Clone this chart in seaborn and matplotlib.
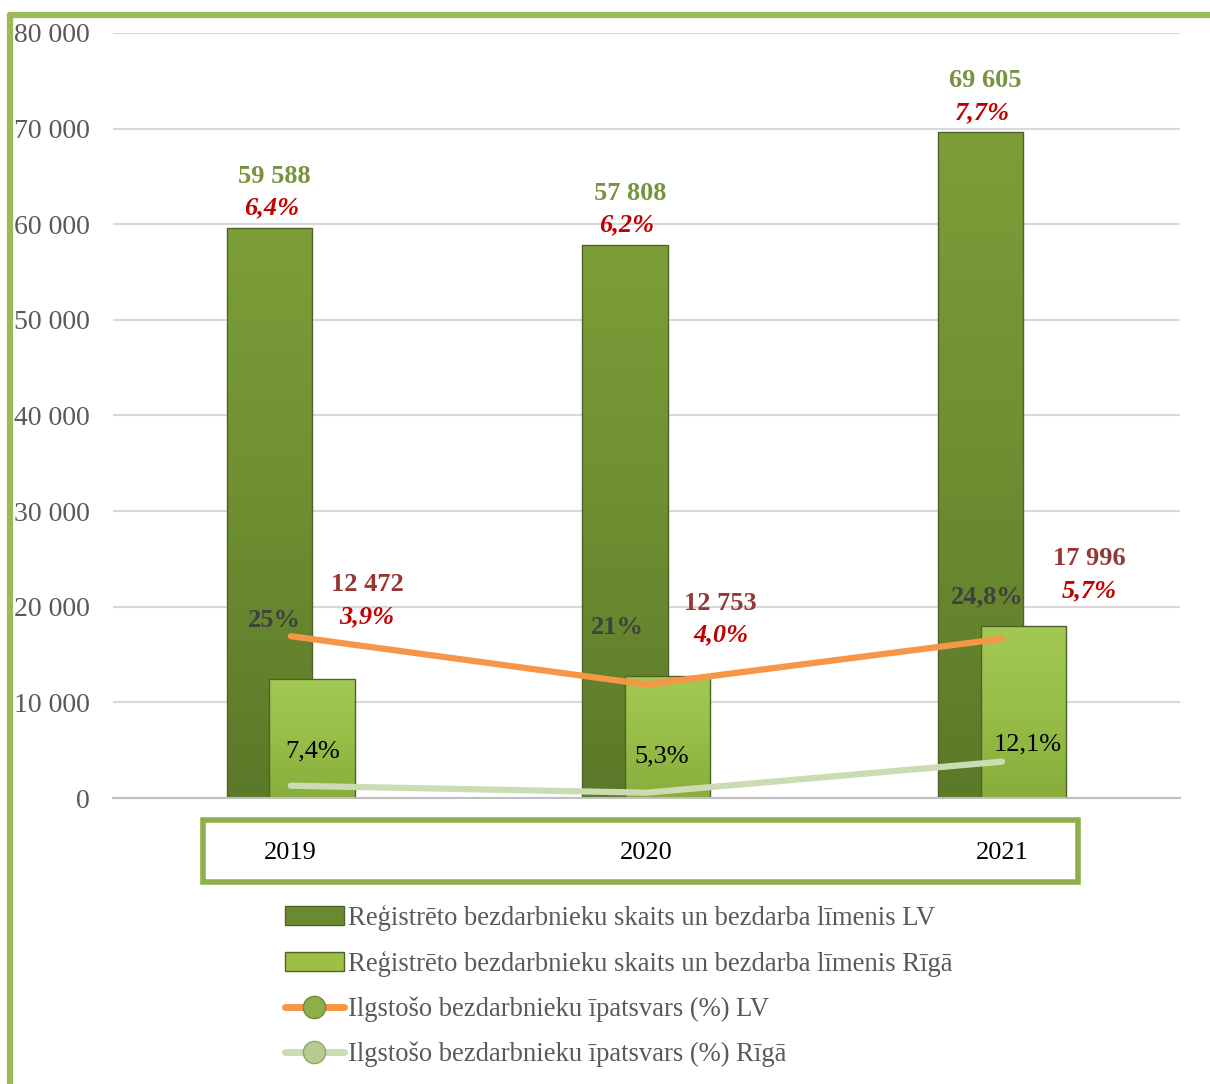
import numpy as np
import pandas as pd
import matplotlib
matplotlib.use("Agg")
import matplotlib.pyplot as plt
import seaborn as sns
from matplotlib.patches import Patch, Rectangle
from matplotlib.lines import Line2D
from matplotlib.ticker import FuncFormatter
from matplotlib.colors import LinearSegmentedColormap

# data
years = ["2019", "2020", "2021"]
count_lv = [59588, 57808, 69605]
count_riga = [12472, 12753, 17996]
rate_lv = [6.4, 6.2, 7.7]
rate_riga = [3.9, 4.0, 5.7]
longterm_lv = [25, 21, 24.8]
longterm_riga = [7.4, 5.3, 12.1]

legend_labels = [
    "Reģistrēto bezdarbnieku skaits un bezdarba līmenis LV",
    "Reģistrēto bezdarbnieku skaits un bezdarba līmenis Rīgā",
    "Ilgstošo bezdarbnieku īpatsvars (%) LV",
    "Ilgstošo bezdarbnieku īpatsvars (%) Rīgā",
]

# label nudges in pixels (labels were hand placed in the original)
riga_nudge = [(55, 94), (53, 73), (66, 67)]
lvline_nudge = [(-16, 16), (-29, 57), (-15, 42)]
rigaline_nudge = [(22, 34), (15, 36), (26, 17)]

sns.set_theme(style="white")
plt.rcParams["font.family"] = ["Liberation Serif", "DejaVu Serif"]

GREEN_DARK = "#6E8C31"
GREEN_LIGHT = "#9DC044"
EDGE = "#4F6228"
ORANGE = "#F79646"
PALE = "#CBDBB3"
FRAME = "#9BBB59"
FS = 19


def thousands(v):
    return f"{int(v):,}".replace(",", " ")


def pct(v, fmt):
    return (format(v, fmt) + "%").replace(".", ",")


def shade(ax, patch, colors, z):
    # vertical gradient clipped to a bar, outline kept on top
    x0, y0 = patch.get_x(), patch.get_y()
    w, h = patch.get_width(), patch.get_height()
    cmap = LinearSegmentedColormap.from_list("bar", colors)
    grad = np.linspace(0, 1, 128).reshape(-1, 1)
    im = ax.imshow(grad, cmap=cmap, extent=(x0, x0 + w, y0, y0 + h),
                   origin="lower", aspect="auto", zorder=z)
    im.set_clip_path(patch)
    patch.set_facecolor("none")
    patch.set_zorder(z + 0.005)


df = pd.DataFrame({
    "year": years * 2,
    "count": count_lv + count_riga,
    "area": ["LV"] * len(years) + ["Rīga"] * len(years),
})

fig = plt.figure(figsize=(12.1, 10.84), dpi=100)
ax = fig.add_axes([0.0934, 0.2638, 0.8816, 0.7058])

# overlapping bars: negative gap widens the dodged bars
sns.barplot(data=df, x="year", y="count", hue="area",
            palette=[GREEN_DARK, GREEN_LIGHT], saturation=1, width=0.24, gap=-1,
            errorbar=None, legend=False, edgecolor=EDGE, linewidth=1.0, ax=ax)

bars = list(ax.patches)
n = len(years)
for i in range(n):
    shade(ax, bars[i], ["#5C7829", "#6E8E31", "#7C9E39"], 2.1 + 0.01 * i)
    shade(ax, bars[n + i], ["#88AD3C", "#97BE47", "#A3C955"], 2.3 + 0.01 * i)

ax.set_xlim(-0.5, n - 0.5)
ax.set_ylim(0, 80000)
ax.set_yticks(np.arange(0, 80001, 10000))
ax.yaxis.set_major_formatter(FuncFormatter(lambda v, p: thousands(v)))
ax.yaxis.grid(True, color="#D9D9D9", lw=1.5)
ax.set_axisbelow(True)
for s in ["top", "right", "left"]:
    ax.spines[s].set_visible(False)
ax.spines["bottom"].set_color("#BFBFBF")
ax.spines["bottom"].set_linewidth(1.5)
ax.tick_params(axis="y", length=0, pad=16.5, labelsize=20, labelcolor="#595959")
ax.tick_params(axis="x", length=0, pad=32, labelsize=FS, labelcolor="black")
ax.set_xlabel("")
ax.set_ylabel("")

for i in range(n):
    b = bars[i]
    cx = b.get_x() + b.get_width() / 2
    ax.annotate(thousands(count_lv[i]), (cx, count_lv[i]), xytext=(5, 52),
                textcoords="offset pixels", ha="center", va="center",
                color="#77933C", fontweight="bold", fontsize=FS, zorder=5)
    ax.annotate(pct(rate_lv[i], ".1f"), (cx, count_lv[i]), xytext=(2, 20),
                textcoords="offset pixels", ha="center", va="center",
                color="#C00000", fontweight="bold", fontstyle="italic",
                fontsize=FS, zorder=5)
    b = bars[n + i]
    cx = b.get_x() + b.get_width() / 2
    dx, dy = riga_nudge[i]
    ax.annotate(thousands(count_riga[i]), (cx, count_riga[i]), xytext=(dx, dy),
                textcoords="offset pixels", ha="center", va="center",
                color="#953735", fontweight="bold", fontsize=FS, zorder=5)
    ax.annotate(pct(rate_riga[i], ".1f"), (cx, count_riga[i]), xytext=(dx, dy - 32),
                textcoords="offset pixels", ha="center", va="center",
                color="#C00000", fontweight="bold", fontstyle="italic",
                fontsize=FS, zorder=5)

# long-term share lines on a hidden secondary axis; the original is not drawn
# to a linear scale, a squared scale follows it more closely
ax2 = ax.twinx()
pos = np.arange(n)
sns.lineplot(x=pos, y=longterm_lv, ax=ax2, color=ORANGE, lw=4.5,
             solid_capstyle="round")
sns.lineplot(x=pos, y=longterm_riga, ax=ax2, color=PALE, lw=4.5,
             solid_capstyle="round")
ax2.set_yscale("function", functions=(lambda v: np.sign(v) * v ** 2,
                                      lambda v: np.sign(v) * np.sqrt(np.abs(v))))
ax2.set_ylim(2.76, 54.09)
ax2.set_yticks([])
ax2.set_ylabel("")
for s in ax2.spines.values():
    s.set_visible(False)
for i in range(n):
    ax2.annotate(pct(longterm_lv[i], "g"), (pos[i], longterm_lv[i]),
                 xytext=lvline_nudge[i], textcoords="offset pixels",
                 ha="center", va="center", color="#404040",
                 fontweight="bold", fontsize=FS)
    ax2.annotate(pct(longterm_riga[i], "g"), (pos[i], longterm_riga[i]),
                 xytext=rigaline_nudge[i], textcoords="offset pixels",
                 ha="center", va="center", color="black", fontsize=FS)
ax.set_xlim(-0.5, n - 0.5)

# category box and outer frame
fig.add_artist(Rectangle((203 / 1210, 1 - 882 / 1084), 875 / 1210, 62 / 1084,
                         transform=fig.transFigure, fill=False, ec="#8DB04A", lw=4))
fig.add_artist(Line2D([10 / 1210, 1], [1 - 15 / 1084] * 2,
                      transform=fig.transFigure, color=FRAME, lw=4.5))
fig.add_artist(Line2D([10 / 1210] * 2, [0, 1 - 15 / 1084],
                      transform=fig.transFigure, color=FRAME, lw=4.5))

handles = [
    Patch(facecolor="#6A8A2F", edgecolor=EDGE),
    Patch(facecolor=GREEN_LIGHT, edgecolor=EDGE),
    Line2D([], [], color=ORANGE, lw=5, marker="o", ms=16,
           mfc="#8DB04D", mec="#6E8C31"),
    Line2D([], [], color=PALE, lw=5, marker="o", ms=16,
           mfc="#B5CC8E", mec="#8DA868"),
]
fig.legend(handles, legend_labels, loc="upper left",
           bbox_to_anchor=(285 / 1210, 1 - 905 / 1084), frameon=False,
           fontsize=19.2, labelcolor="#595959", handlelength=2.2,
           handletextpad=0.15, labelspacing=0.74, borderaxespad=0, borderpad=0)

fig.savefig("out.png", dpi=100)
